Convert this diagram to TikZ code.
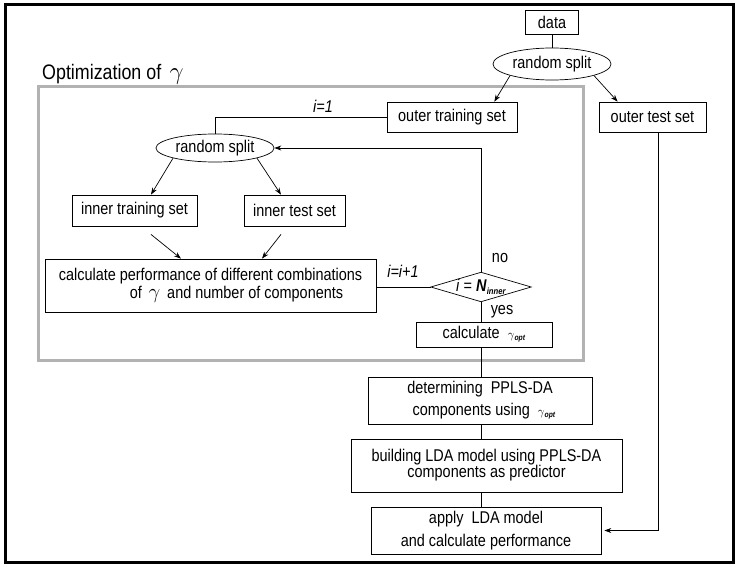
\documentclass[tikz,border=0pt]{standalone}
\usepackage{fontspec}
\setmainfont{Liberation Sans}[FakeStretch=0.85]
\usepackage{graphicx}
\usetikzlibrary{arrows.meta,shapes.geometric}
\newcommand{\gopt}{{\fontsize{13}{13}\selectfont$\gamma$}\raisebox{-2pt}{\fontsize{8}{8}\selectfont\textbf{\textit{opt}}}}
\begin{document}
\begin{tikzpicture}[x=1pt,y=-1pt,
  every node/.style={font=\fontsize{17}{17}\selectfont},
  box/.style={draw, line width=0.7pt, inner sep=0pt, align=center},
  ell/.style={draw, ellipse, line width=0.7pt, inner sep=0pt},
  conn/.style={line width=0.7pt},
  arr/.style={conn, -{Stealth[length=7pt,width=5pt]}},
  lbl/.style={inner sep=0pt}]
\useasboundingbox (0,0) rectangle (739,567);
\draw[line width=3pt] (5,5) rectangle (733,562);
\draw[line width=3pt, black!30] (38,87) rectangle (583,360);
\node[lbl, anchor=west] (opt) at (42,74) {\fontsize{21}{24}\selectfont Optimization of \,{\fontsize{27}{24}\selectfont$\gamma$}};

\node[box, minimum width=53, minimum height=24] (data) at (552,22) {data};
\node[ell, minimum width=118, minimum height=32] (esplit) at (552,64) {random split};
\node[box, minimum width=130, minimum height=30] (otrain) at (452,117) {outer training set};
\node[box, minimum width=107, minimum height=30] (otest) at (652.5,117) {outer test set};
\node[ell, minimum width=118, minimum height=28] (isplit) at (215,148) {random split};
\node[box, minimum width=125, minimum height=31] (itrain) at (134.5,210.5) {inner training set};
\node[box, minimum width=101, minimum height=31] (itest) at (294.5,210.5) {inner test set};
\node[box, minimum width=331, minimum height=53, align=left] (calc) at (210.5,285.5)
  {calculate performance of different combinations\\[1pt]\hspace*{71pt}of \,{\fontsize{22}{16}\selectfont$\gamma$}\, and number of components};
\node[lbl, minimum width=100, minimum height=29] (dia) at (481,287) {\textit{i} = \textbf{\textit{N}}\raisebox{-3pt}{\fontsize{9}{9}\selectfont\textbf{\textit{inner}}}};
\draw[conn] (dia.west) -- (dia.north) -- (dia.east) -- (dia.south) -- cycle;
\node[box, minimum width=136, minimum height=25] (cgam) at (484,334.5) {calculate \ \gopt};
\node[box, minimum width=224, minimum height=47] (det) at (480,400.5) {determining \ PPLS-DA\\[5pt]\ \ components using \ \gopt};
\node[box, minimum width=271, minimum height=53] (build) at (486.5,465.5) {building LDA model using PPLS-DA\\[-1pt]components as predictor};
\node[box, minimum width=230, minimum height=47] (apply) at (486,530.5) {apply \ LDA model\\[6pt]and calculate performance};

\draw[conn] (data.south) -- (esplit.north);
\draw[arr] (esplit.south west) -- ([xshift=-23pt]otrain.north east);
\draw[arr] (esplit.south east) -- ([xshift=19pt]otest.north west);
\draw[conn] (otrain.west) -| (isplit.north);
\node[lbl] (l1) at (323,106) {\textit{i=1}};
\draw[arr] (dia.north) |- (isplit.east);
\draw[arr] (isplit.south west) -- ([xshift=16.5pt]itrain.north);
\draw[arr] (isplit.south east) -- ([xshift=-13.5pt]itest.north);
\draw[arr, shorten <=12.8pt] ([xshift=6.5pt]itrain.south) -- ([xshift=-29.5pt]calc.north);
\draw[arr, shorten <=10.2pt] ([xshift=-7.2pt]itest.south) -- ([xshift=51.5pt]calc.north);
\draw[conn] (calc.east |- dia.west) -- (dia.west);
\node[lbl] (l2) at (403,271) {\textit{i=i+1}};
\node[lbl] (l3) at (500,258) {no};
\node[lbl] (l4) at (502,312) {yes};
\draw[conn] (dia.south) -- (cgam.north -| dia.south);
\draw[conn] (cgam.south -| dia.south) -- (det.north -| dia.south);
\draw[conn] (det.south -| dia.south) -- (build.north -| dia.south);
\draw[conn] (build.south -| dia.south) -- (apply.north -| dia.south);
\draw[arr, shorten >=3pt] ([xshift=5.5pt]otest.south) |- (apply.east);
\end{tikzpicture}
\end{document}
